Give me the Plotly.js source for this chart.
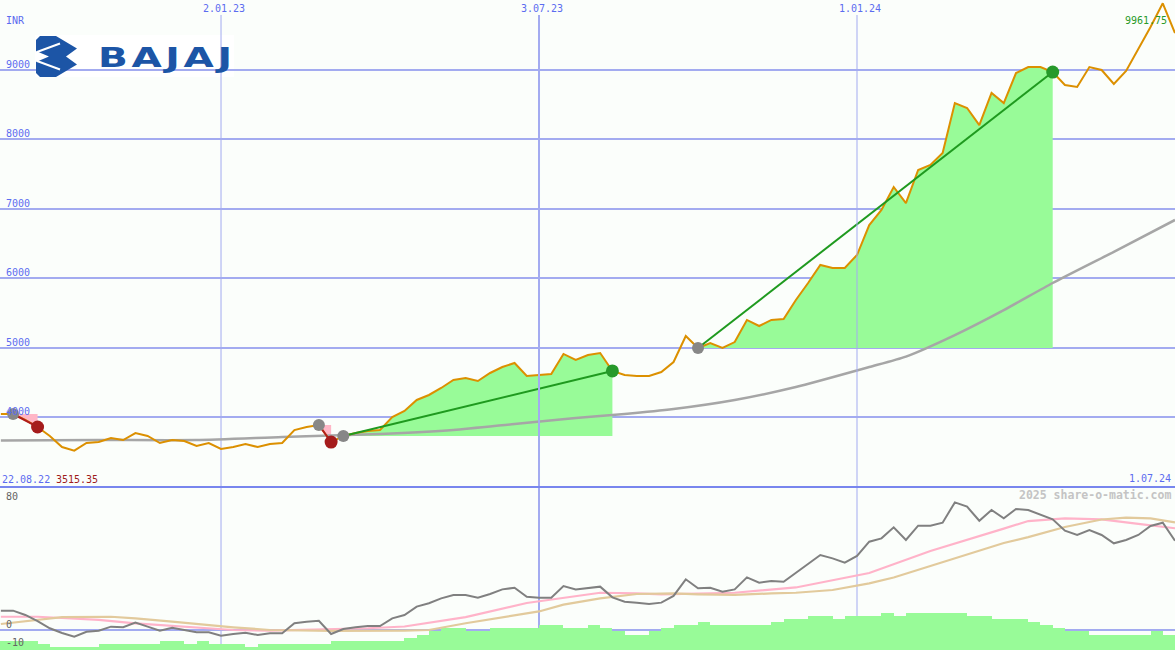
<!DOCTYPE html>
<html>
<head>
<meta charset="utf-8">
<script src="https://cdn.plot.ly/plotly-3.0.1.min.js"></script>
<style>
html,body{margin:0;padding:0;background:#fbfefb;}
#chart{width:1175px;height:650px;}
</style>
</head>
<body>
<div id="chart"></div>
<script>
// ---------------- DATA ----------------
const weeks = [
 '2022-08-29','2022-09-05','2022-09-12','2022-09-19','2022-09-26','2022-10-03','2022-10-10','2022-10-17','2022-10-24','2022-10-31',
 '2022-11-07','2022-11-14','2022-11-21','2022-11-28','2022-12-05','2022-12-12','2022-12-19','2022-12-26','2023-01-02','2023-01-09',
 '2023-01-16','2023-01-23','2023-01-30','2023-02-06','2023-02-13','2023-02-20','2023-02-27','2023-03-06','2023-03-13','2023-03-20',
 '2023-03-27','2023-04-03','2023-04-10','2023-04-17','2023-04-24','2023-05-01','2023-05-08','2023-05-15','2023-05-22','2023-05-29',
 '2023-06-05','2023-06-12','2023-06-19','2023-06-26','2023-07-03','2023-07-10','2023-07-17','2023-07-24','2023-07-31','2023-08-07',
 '2023-08-14','2023-08-21','2023-08-28','2023-09-04','2023-09-11','2023-09-18','2023-09-25','2023-10-02','2023-10-09','2023-10-16',
 '2023-10-23','2023-10-30','2023-11-06','2023-11-13','2023-11-20','2023-11-27','2023-12-04','2023-12-11','2023-12-18','2023-12-25',
 '2024-01-01','2024-01-08','2024-01-15','2024-01-22','2024-01-29','2024-02-05','2024-02-12','2024-02-19','2024-02-26','2024-03-04',
 '2024-03-11','2024-03-18','2024-03-25','2024-04-01','2024-04-08','2024-04-15','2024-04-22','2024-04-29','2024-05-06','2024-05-13',
 '2024-05-20','2024-05-27','2024-06-03','2024-06-10','2024-06-17','2024-06-24','2024-07-01'
];

const closePrice = [
 4043,4043,3957,3856,3726,3567,3515.35,3625,3639,3697,
 3668,3769,3726,3625,3668,3654,3582,3625,3539,3567,
 3611,3567,3611,3625,3812,3856,3884,3639,3726,3769,
 3798,3812,4000,4086,4245,4317,4418,4533,4562,4518,
 4634,4720,4778,4591,4605,4620,4908,4821,4893,4922,
 4663,4605,4591,4591,4648,4792,5167,4994,5066,4994,
 5080,5398,5311,5398,5412,5686,5931,6190,6147,6147,
 6334,6766,6983,7314,7083,7559,7631,7804,8524,8452,
 8207,8669,8524,8957,9043,9043,8971,8784,8755,9043,
 9000,8798,8986,9303,9620,9961.75,9533
];

// long moving average (grey line, price panel)
const maIdx    = [0,8,16,23,31,37,42,47,51,55,60,65,71,74,78,82,86,91,96];
const maValues = [3661,3668,3668,3712,3755,3812,3899,3985,4043,4115,4245,4432,4720,4870,5180,5540,5931,6380,6839];

// indicator panel: grey oscillator (weekly)
const oscValues = [
 12.1,12.1,9.4,5.6,1.1,-1.9,-4.2,-1.1,-0.4,2.1,
 1.7,4.6,2.1,-0.4,1.4,0,-1.4,-1.4,-3.6,-2.5,
 -1.7,-3.1,-2.1,-2.1,4.2,5.2,5.8,-2.5,0.6,1.7,
 2.5,2.5,7.3,9.4,14.6,16.7,19.8,21.9,21.9,20.2,
 22.5,25.4,26.4,20.8,20.2,20.2,27.5,25.4,26.4,27.1,
 20.4,17.7,17.1,16.3,17.1,21.3,31.7,26.1,26.4,23.9,
 25.4,32.9,29.6,30.6,30.2,35.6,41.3,46.9,44.8,42.1,
 46.3,55.2,57.3,64.2,56.3,65.2,65.2,67.1,79.8,77.1,
 68.3,75,69.8,75.6,75,71.9,69.2,62.1,59.4,62.5,
 59.4,54.2,56.3,59.4,65,67.1,55.8
];
// pink signal line
const pinkIdx    = [0,3,5,8,11,14,16,19,22,24,27,30,33,38,43,49,52,54,60,65,71,76,82,84,87,90,93,96];
const pinkValues = [8.3,8.3,7.5,6.3,4.2,2.5,1.25,0,-0.4,0,0.4,1.1,2.2,8.1,16.9,23.3,22.9,22.3,23.3,26.6,35.6,49.4,63.4,68.1,69.8,69.2,66.3,63.6];
// tan signal line
const tanIdx    = [0,3,5,9,11,14,16,19,22,27,33,35,38,44,46,49,52,55,57,60,63,65,68,71,73,76,79,82,84,87,90,92,94,96];
const tanValues = [3.75,6.25,8.1,8.3,7.3,5.2,3.75,1.7,0,-0.6,-0.4,0,4.2,11.6,15.9,19.8,22.5,22.9,22.3,21.9,22.9,23.3,25,29.2,32.8,40,47.5,54.4,58.1,64.4,69.1,70.2,69.8,67.3];
// green histogram
const histValues = [
 -6.9,-6.9,-6.9,-6.9,-8.75,-10.4,-10.4,-10.4,-10.4,-8.75,
 -8.75,-8.75,-8.75,-8.75,-6.9,-6.9,-8.75,-6.9,-8.75,-8.75,
 -8.75,-10.4,-8.75,-8.75,-8.75,-8.75,-8.75,-8.75,-6.9,-6.9,
 -6.9,-6.9,-6.9,-6.9,-5,-3.1,-0.6,1.25,1.25,-0.6,
 -0.6,1.25,1.25,1.25,1.25,3.1,3.1,1.25,1.25,3.1,
 1.25,-0.6,-3.1,-3.1,-0.6,1.25,3.1,3.1,5,3.1,
 3.1,3.1,3.1,3.1,5,6.9,6.9,8.75,8.75,6.9,
 8.75,8.75,8.75,10.6,8.75,10.6,10.6,10.6,10.6,10.6,
 8.75,8.75,6.9,6.9,6.9,5,3.1,1.25,-0.6,-0.6,
 -3.1,-3.1,-3.1,-3.1,-3.1,-0.6,-3.1
];

// trades (week indices)
const tradeEntry = [1, 26, 28, 57];
const tradeExit  = [3, 27, 50, 86];

const priceTicks = [4000,5000,6000,7000,8000,9000];
const dateTicks = ['2023-01-02','2023-07-03','2024-01-01'];
const dateTickLabels = ['2.01.23','3.07.23','1.01.24'];
const oscTicks = [80, 0, -10];
const currencyLabel = 'INR';
const firstDateLabel = '22.08.22';
const lastDateLabel = '1.07.24';
const watermark = '2025 share-o-matic.com';
const logoText = 'BAJAJ';

// ---------------- STYLE ----------------
const W = 1175, H = 650;
const BG = '#fbfefb';
const GRID = '#a3abf0';
const BLUE_TXT = '#5b6cf0';
const FONT = 'DejaVu Sans Mono';
const px = v => v / W;
const py = v => 1 - v / H;
const DAY = 86400000;

const traces = [];

// histogram bars (bottom panel)
traces.push({
  type: 'bar', x: weeks, y: histValues.map(v => v + 30), base: -30,
  xaxis: 'x', yaxis: 'y2', width: 7 * DAY, offset: -7 * DAY,
  marker: {color: '#98fb98', line: {width: 0}}, hoverinfo: 'skip'
});
traces.push({type:'scatter', mode:'lines', x: pinkIdx.map(i=>weeks[i]), y: pinkValues, xaxis:'x', yaxis:'y2',
  line:{color:'#ffb3c9', width:2.2}, hoverinfo:'skip'});
traces.push({type:'scatter', mode:'lines', x: tanIdx.map(i=>weeks[i]), y: tanValues, xaxis:'x', yaxis:'y2',
  line:{color:'#e2ca9c', width:2.2}, hoverinfo:'skip'});
traces.push({type:'scatter', mode:'lines', x: weeks, y: oscValues, xaxis:'x', yaxis:'y2',
  line:{color:'#808080', width:2}, hoverinfo:'skip'});

// trade fills
tradeEntry.forEach((e, t) => {
  const x = tradeExit[t];
  const entryP = closePrice[e], exitP = closePrice[x];
  const win = exitP > entryP;
  const xs = weeks.slice(e, x + 1).concat([weeks[x], weeks[e]]);
  const ys = closePrice.slice(e, x + 1).concat([entryP, entryP]);
  traces.push({type:'scatter', mode:'lines', x: xs, y: ys, fill:'toself',
    fillcolor: win ? '#98fb98' : '#ffb6c6', line:{width:0}, hoverinfo:'skip'});
});

// long MA
traces.push({type:'scatter', mode:'lines', x: maIdx.map(i=>weeks[i]), y: maValues,
  line:{color:'#a6a6a6', width:2.5, shape:'spline', smoothing:0.6}, hoverinfo:'skip'});
// price
traces.push({type:'scatter', mode:'lines', x: weeks, y: closePrice,
  line:{color:'#dc9000', width:2}, hoverinfo:'skip'});
// trade connectors
tradeEntry.forEach((e, t) => {
  const x = tradeExit[t];
  const win = closePrice[x] > closePrice[e];
  traces.push({type:'scatter', mode:'lines', x:[weeks[e], weeks[x]], y:[closePrice[e], closePrice[x]],
    line:{color: win ? '#1f9a1f' : '#b01c1c', width: 2}, hoverinfo:'skip'});
});
// entry markers
traces.push({type:'scatter', mode:'markers', x: tradeEntry.map(i=>weeks[i]), y: tradeEntry.map(i=>closePrice[i]),
  marker:{color:'#878787', size:12, line:{width:0}}, hoverinfo:'skip'});
// exit markers
traces.push({type:'scatter', mode:'markers', x: tradeExit.map(i=>weeks[i]), y: tradeExit.map(i=>closePrice[i]),
  marker:{color: tradeExit.map((i,t)=> closePrice[i] > closePrice[tradeEntry[t]] ? '#26992a' : '#a51c1c'), size:13, line:{width:0}},
  hoverinfo:'skip'});

// ---------------- LAYOUT ----------------
const splitPx = 487;
const yTopRange = [2991, 10009];
const yBotRange = [-12.5, 89.4];

const shapes = [];
// logo white background
shapes.push({type:'rect', xref:'paper', yref:'paper', x0:px(35), x1:px(234), y0:py(77), y1:py(35),
  fillcolor:'#ffffff', line:{width:0}, layer:'between'});
// emblem
const emb = [[40,36],[56,36],[77,48.5],[66,56.5],[77,64.5],[56,77],[40,77],[36,73],[36,62],[49,56.5],[36,51],[36,40]];
shapes.push({type:'path', xref:'paper', yref:'paper',
  path: 'M ' + emb.map(p => px(p[0]).toFixed(5) + ',' + py(p[1]).toFixed(5)).join(' L ') + ' Z',
  fillcolor:'#1c55a6', line:{width:0}, layer:'above'});
shapes.push({type:'line', xref:'paper', yref:'paper', x0:px(37), y0:py(52), x1:px(60), y1:py(43.5),
  line:{color:'#ffffff', width:2}, layer:'above'});
shapes.push({type:'line', xref:'paper', yref:'paper', x0:px(37), y0:py(61), x1:px(60), y1:py(69.5),
  line:{color:'#ffffff', width:2}, layer:'above'});
// vertical date lines
dateTicks.forEach((d, i) => {
  const w = i === 1 ? 2 : 1;
  shapes.push({type:'line', xref:'x', yref:'paper', x0:d, x1:d, y0:py(splitPx), y1:py(15),
    line:{color:GRID, width:w}, layer: i === 0 ? 'below' : 'above'});
  shapes.push({type:'line', xref:'x', yref:'paper', x0:d, x1:d, y0:0, y1:py(splitPx),
    line:{color:GRID, width:w}, layer:'below'});
});
// panel separator
shapes.push({type:'line', xref:'paper', yref:'paper', x0:0, x1:1, y0:py(splitPx), y1:py(splitPx),
  line:{color:'#7886ee', width:2}, layer:'above'});

const annotations = [];
const ann = o => annotations.push(Object.assign({showarrow:false, borderpad:0,
  font:{family:FONT, size:10, color:BLUE_TXT}}, o));

ann({text: currencyLabel, xref:'paper', yref:'paper', x:px(5), y:py(20), xanchor:'left', yanchor:'middle'});
priceTicks.forEach(v => ann({text:String(v), xref:'paper', yref:'y', x:px(5), y:v, xanchor:'left', yanchor:'bottom', yshift:-1}));
dateTicks.forEach((d, i) => ann({text:dateTickLabels[i], xref:'x', yref:'paper', x:d, y:py(9), xanchor:'center', yanchor:'middle', xshift:3}));
ann({text: Math.max(...closePrice).toFixed(2), xref:'paper', yref:'paper', x:px(1168), y:py(21), xanchor:'right', yanchor:'middle',
  font:{family:FONT, size:10, color:'#289a28'}});
ann({text: firstDateLabel, xref:'paper', yref:'paper', x:px(1), y:py(479), xanchor:'left', yanchor:'middle'});
ann({text: Math.min(...closePrice).toFixed(2), xref:'paper', yref:'paper', x:px(55), y:py(479), xanchor:'left', yanchor:'middle',
  font:{family:FONT, size:10, color:'#a01c1c'}});
ann({text: lastDateLabel, xref:'paper', yref:'paper', x:px(1172), y:py(478), xanchor:'right', yanchor:'middle'});
ann({text: '<b>' + watermark + '</b>', xref:'paper', yref:'paper', x:px(1172), y:py(495), xanchor:'right', yanchor:'middle',
  font:{family:FONT, size:11.5, color:'#c4c4c4'}});
const oscLabelY = {80:496, 0:624, '-10':642.5};
oscTicks.forEach(v => ann({text:String(v), xref:'paper', yref:'paper', x:px(5), y:py(oscLabelY[v]), xanchor:'left', yanchor:'middle',
  font:{family:FONT, size:10, color:'#646464'}}));
ann({text:'<span style="letter-spacing:2.5px">' + logoText + '</span>', xref:'paper', yref:'paper', x:px(97), y:py(57),
  xanchor:'left', yanchor:'middle', font:{family:'DejaVu Sans', size:27, weight:'bold', color:'#1c55a6'}});

const layout = {
  width: W, height: H,
  margin: {l:0, r:0, t:0, b:0, pad:0},
  paper_bgcolor: BG, plot_bgcolor: BG,
  showlegend: false, barmode: 'overlay', bargap: 0,
  xaxis: {type:'date', range:['2022-08-28 12:00', '2024-07-01'], showgrid:false, zeroline:false,
          showticklabels:false, showline:false, ticks:'', fixedrange:true},
  yaxis: {domain:[(H - splitPx)/H, 1], range:yTopRange, tickvals:priceTicks, showticklabels:false,
          gridcolor:GRID, gridwidth:2, zeroline:false, showline:false, ticks:'', fixedrange:true},
  yaxis2: {domain:[0, (H - splitPx)/H], range:yBotRange, tickvals:[0], showticklabels:false,
          gridcolor:GRID, gridwidth:2, zeroline:false, showline:false, ticks:'', fixedrange:true},
  shapes: shapes,
  annotations: annotations
};

Plotly.newPlot('chart', traces, layout, {staticPlot:true, displayModeBar:false}).then(gd => {
  // stretch the logo word horizontally like the wide brand lettering
  gd.querySelectorAll('text.annotation-text').forEach(t => {
    if (t.textContent === logoText) {
      t.style.transformBox = 'fill-box';
      t.style.transformOrigin = '0% 50%';
      t.style.transform = 'scaleX(1.45)';
    }
  });
});
</script>
</body>
</html>
